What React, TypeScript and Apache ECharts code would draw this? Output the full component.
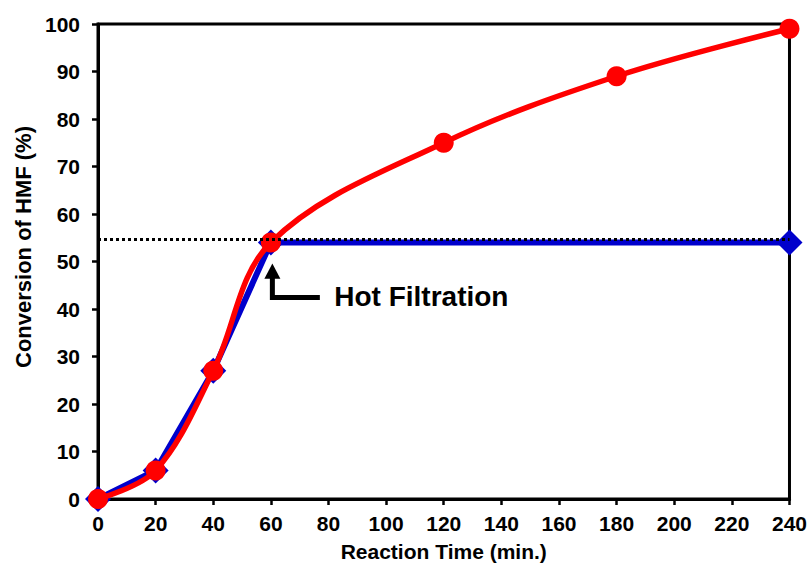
import React, { useEffect, useRef } from "react";
import * as echarts from "echarts";

const xTicks = [0, 20, 40, 60, 80, 100, 120, 140, 160, 180, 200, 220, 240];
const blueX = [0, 20, 40, 60, 240];
const blueY = [0, 6, 27, 54, 54];
const redX = [0, 20, 40, 60, 120, 180, 240];
const redY = [0, 6, 27, 54, 75, 89, 99];
const hotFiltrationLevel = 54.6;
const annotationText = "Hot Filtration";
const yTitle = "Conversion of HMF (%)";
const xTitle = "Reaction Time (min.)";

const FONT = "'Liberation Sans', Arial, sans-serif";

export default function App() {
  const ref = useRef<HTMLDivElement>(null);
  useEffect(() => {
    const chart = echarts.init(ref.current!, undefined, { renderer: "svg" });
    const blue = blueX.map((x, i) => [x, blueY[i]]);
    const red = redX.map((x, i) => [x, redY[i]]);
    chart.setOption({
      animation: false,
      backgroundColor: "#fff",
      grid: {
        left: 98,
        right: 20,
        top: 24,
        bottom: 66,
        show: true,
        borderColor: "#000",
        borderWidth: 3,
        backgroundColor: "transparent",
      },
      xAxis: {
        type: "value",
        min: xTicks[0],
        max: xTicks[xTicks.length - 1],
        interval: 20,
        name: xTitle,
        nameLocation: "middle",
        nameGap: 42,
        nameTextStyle: { fontFamily: FONT, fontWeight: "bold", fontSize: 21, color: "#000" },
        axisLine: { show: true, lineStyle: { color: "#000", width: 3 } },
        axisTick: { show: true, length: 6, lineStyle: { color: "#000", width: 2.5 } },
        axisLabel: { fontFamily: FONT, fontWeight: "bold", fontSize: 21, color: "#000", margin: 14 },
        splitLine: { show: false },
      },
      yAxis: {
        type: "value",
        min: 0,
        max: 100,
        interval: 10,
        axisLine: { show: true, lineStyle: { color: "#000", width: 3 } },
        axisTick: { show: true, length: 6, lineStyle: { color: "#000", width: 2.5 } },
        axisLabel: { fontFamily: FONT, fontWeight: "bold", fontSize: 21, color: "#000", margin: 18 },
        splitLine: { show: false },
      },
      series: [
        {
          type: "line",
          data: blue,
          symbol: "diamond",
          symbolSize: 26,
          itemStyle: { color: "#0000CC" },
          lineStyle: { color: "#0000CC", width: 6 },
          z: 2,
          markLine: {
            silent: true,
            symbol: "none",
            label: { show: false },
            lineStyle: { color: "#000", width: 3, type: [3, 3] },
            data: [[{ coord: [xTicks[0], hotFiltrationLevel] }, { coord: [xTicks[xTicks.length - 1], hotFiltrationLevel] }]],
          },
        },
        {
          type: "line",
          data: red,
          smooth: 0.35,
          symbol: "circle",
          symbolSize: 20,
          itemStyle: { color: "#FF0000" },
          lineStyle: { color: "#FF0000", width: 5.5 },
          z: 3,
        },
      ],
    });

    const p = (x: number, y: number) => chart.convertToPixel({ gridIndex: 0 }, [x, y]) as number[];
    const tip = p(60, 49.6);
    const headBase = p(60, 46.6);
    const bottom = p(60, 42.4);
    const end = p(77, 42.4);
    const txt = p(82, 42.6);
    chart.setOption({
      graphic: [
        {
          type: "polyline",
          shape: { points: [[headBase[0] + 1.5, headBase[1]], [bottom[0] + 1.5, bottom[1]], [end[0], end[1]]] },
          style: { stroke: "#000", lineWidth: 5, fill: null },
          z: 10,
        },
        {
          type: "polygon",
          shape: { points: [[tip[0] + 1.5, tip[1]], [tip[0] - 6.5, headBase[1] + 1], [tip[0] + 9.5, headBase[1] + 1]] },
          style: { fill: "#000" },
          z: 10,
        },
        {
          type: "text",
          x: txt[0],
          y: txt[1],
          style: {
            text: annotationText,
            fontFamily: FONT,
            fontWeight: "bold",
            fontSize: 28,
            fill: "#000",
            verticalAlign: "middle",
            align: "left",
          },
          z: 10,
        },
        {
          type: "text",
          x: 23,
          y: 247,
          rotation: Math.PI / 2,
          style: {
            text: yTitle,
            fontFamily: FONT,
            fontWeight: "bold",
            fontSize: 22,
            fill: "#000",
            verticalAlign: "middle",
            align: "center",
          },
          z: 10,
        },
      ],
    });
    return () => chart.dispose();
  }, []);
  return <div ref={ref} style={{ width: 810, height: 567, position: "absolute", left: 0, top: 0 }} />;
}
